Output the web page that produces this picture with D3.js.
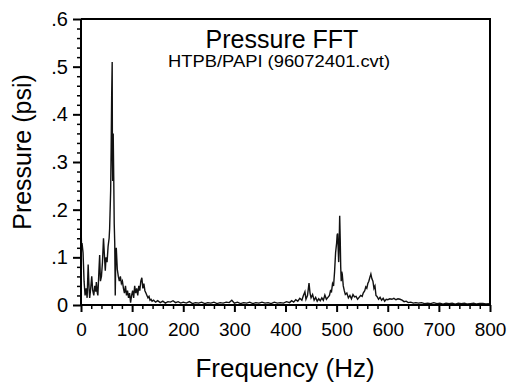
<!DOCTYPE html>
<html>
<head>
<meta charset="utf-8">
<script src="https://cdn.jsdelivr.net/npm/d3@7"></script>
<style>
  html, body { margin: 0; padding: 0; background: #fff; }
  svg { display: block; }
  text { font-family: "Liberation Sans", Arial, Helvetica, sans-serif; fill: #000; }
</style>
</head>
<body>
<svg id="chart" width="508" height="384"></svg>
<script>
// ---- Data (frequency Hz, pressure psi) ----
const lowBand = [
  [0,0.17],[1,0.125],[2,0.13],[4,0.11],[6,0.05],[8,0.02],[10,0.035],[12,0.015],[14,0.085],
  [16,0.03],[17,0.015],[19,0.035],[21,0.06],[23,0.03],[25,0.02],[27,0.04],[29,0.028],[30,0.048],
  [32,0.025],[33,0.02],[35,0.07],[36.5,0.105],[38,0.05],[40,0.06],[42,0.09],[44,0.14],[46,0.1],
  [47.5,0.072],[49,0.1],[51,0.09],[53,0.123],[55,0.14],[56,0.16],[57,0.2],[58,0.24],[59,0.33],
  [60,0.44],[61,0.51],[61.5,0.3],[62,0.26],[63,0.36],[64,0.27],[65,0.17],[66,0.13],[67,0.02],
  [68,0.1],[69,0.12],[71,0.075],[73,0.06],[75,0.05],[77,0.06],[79,0.045],[81,0.05],[83,0.035],
  [85,0.025],[87,0.04],[89,0.02],[91,0.03],[93,0.015],[95,0.025],[97,0.005],[99,0.02],[101,0.03],
  [103,0.015],[105,0.04],[107,0.025],[109,0.035],[111,0.02],[113,0.04],[115,0.03],[117,0.05],
  [119,0.057],[121,0.035],[123,0.045],[125,0.03],[127,0.025],[129,0.02],[131,0.015],[133,0.018],
  [135,0.01],[137,0.012],[139,0.008]
];
const midFlat = [
  [142,0.01],[146,0.006],[150,0.009],[155,0.005],[160,0.008],[165,0.004],[170,0.007],[175,0.006],
  [180,0.009],[185,0.005],[190,0.007],[195,0.004],[200,0.006],[206,0.004],[212,0.007],[218,0.003],
  [224,0.005],[230,0.004],[236,0.006],[242,0.003],[248,0.005],[254,0.004],[260,0.006],[266,0.003],
  [272,0.005],[278,0.004],[284,0.006],[290,0.005],[295,0.01],[300,0.004],[306,0.006],[312,0.003],
  [318,0.005],[324,0.004],[330,0.006],[336,0.003],[342,0.005],[348,0.004],[354,0.006],[360,0.004],
  [366,0.005],[372,0.003],[378,0.006],[384,0.004],[390,0.005],[396,0.004],[402,0.007],[408,0.005],
  [412,0.009],[416,0.006]
];
const highBand = [
  [420,0.011],[424,0.008],[428,0.014],[432,0.01],[435,0.02],[438,0.028],[440,0.012],[443,0.02],
  [446,0.046],[448,0.025],[450,0.015],[453,0.022],[456,0.01],[459,0.016],[462,0.008],[465,0.013],
  [468,0.009],[471,0.015],[474,0.01],[477,0.021],[480,0.012],[483,0.016],[486,0.02],[488,0.03],
  [490,0.028],[492,0.045],[494,0.04],[496,0.07],[498,0.11],[500,0.13],[501,0.147],[502,0.15],
  [503,0.12],[504,0.09],[505,0.13],[506,0.187],[507,0.14],[508,0.08],[509,0.05],[510,0.07],
  [511,0.065],[513,0.04],[515,0.03],[517,0.022],[520,0.025],[523,0.015],[526,0.02],[529,0.013],
  [532,0.022],[535,0.017],[538,0.018],[541,0.012],[544,0.016],[547,0.02],[550,0.018],[552,0.025],
  [555,0.03],[557,0.038],[559,0.035],[561,0.045],[563,0.05],[565,0.058],[567,0.065],[569,0.055],
  [571,0.05],[573,0.035],[575,0.04],[577,0.02],[579,0.018],[582,0.012],[585,0.016],[588,0.01],
  [591,0.014],[594,0.008],[597,0.012],[600,0.011],[604,0.013],[608,0.012],[612,0.014],[616,0.011],
  [620,0.013],[624,0.012],[628,0.01],[632,0.007],[636,0.008],[640,0.005],[645,0.006],[650,0.004]
];
const tailBand = [
  [655,0.005],[660,0.004],[666,0.005],[672,0.003],[678,0.004],[684,0.003],[690,0.005],[696,0.003],
  [702,0.004],[708,0.002],[714,0.004],[720,0.003],[726,0.004],[732,0.002],[738,0.004],[744,0.003],
  [750,0.004],[756,0.002],[762,0.003],[768,0.004],[774,0.002],[780,0.003],[786,0.003],[792,0.002],
  [798,0.003]
];
const xTickValues = [0,100,200,300,400,500,600,700,800];
const xTickLabels = ["0","100","200","300","400","500","600","700","800"];
const yTickValues = [0,0.1,0.2,0.3,0.4,0.5,0.6];
const yTickLabels = ["0",".1",".2",".3",".4",".5",".6"];
const titleText = "Pressure FFT";
const subtitleText = "HTPB/PAPI (96072401.cvt)";
const xTitle = "Frequency (Hz)";
const yTitle = "Pressure (psi)";

// ---- Layout ----
const svg = d3.select("#chart");
const L = 81, R = 490, T = 19, B = 305;
const x = d3.scaleLinear().domain([0, 800]).range([L, R]);
const y = d3.scaleLinear().domain([0, 0.6]).range([B, T]);
const series = lowBand.concat(midFlat, highBand, tailBand);

// Frame (top/right)
svg.append("path")
  .attr("d", `M${L},${T}H${R}V${B}`)
  .attr("fill", "none").attr("stroke", "#000").attr("stroke-width", 2);

// Data line
svg.append("path")
  .datum(series)
  .attr("fill", "none")
  .attr("stroke", "#111")
  .attr("stroke-width", 1.4)
  .attr("stroke-linejoin", "miter")
  .attr("d", d3.line().x(d => x(d[0])).y(d => y(d[1])));

// X axis
const xMinor = d3.range(0, 801, 20).filter(v => v % 100 !== 0);
const xAxisG = svg.append("g").attr("transform", `translate(0,${B})`);
xAxisG.append("g").call(d3.axisBottom(x).tickValues(xMinor).tickSize(4).tickFormat(""))
  .call(g => g.select(".domain").remove())
  .call(g => g.selectAll("line").attr("stroke-width", 1.5));
xAxisG.append("g").call(d3.axisBottom(x).tickValues(xTickValues).tickSize(7).tickPadding(11)
    .tickFormat((d, i) => xTickLabels[i]))
  .call(g => g.select(".domain").attr("stroke-width", 2).attr("d", `M${L},0H${R}`))
  .call(g => g.selectAll("line").attr("stroke-width", 2))
  .call(g => g.selectAll("text").attr("font-size", 19).attr("fill", "#000")
    .style("font-family", "'Liberation Sans', Arial, sans-serif"));

// Y axis
const yMinor = d3.range(0, 0.601, 0.02).filter(v => Math.abs(v * 10 - Math.round(v * 10)) > 1e-6);
const yAxisG = svg.append("g").attr("transform", `translate(${L},0)`);
yAxisG.append("g").call(d3.axisLeft(y).tickValues(yMinor).tickSize(4).tickFormat(""))
  .call(g => g.select(".domain").remove())
  .call(g => g.selectAll("line").attr("stroke-width", 1.5));
yAxisG.append("g").call(d3.axisLeft(y).tickValues(yTickValues).tickSize(8).tickPadding(5)
    .tickFormat((d, i) => yTickLabels[i]))
  .call(g => g.select(".domain").attr("stroke-width", 2).attr("d", `M0,${B}V${T}`))
  .call(g => g.selectAll("line").attr("stroke-width", 2))
  .call(g => g.selectAll("text").attr("font-size", 20).attr("fill", "#000")
    .style("font-family", "'Liberation Sans', Arial, sans-serif"));

// Titles
svg.append("text").attr("x", 282).attr("y", 48).attr("text-anchor", "middle")
  .attr("font-size", 25).text(titleText);
svg.append("text").attr("x", 279).attr("y", 67).attr("text-anchor", "middle")
  .attr("font-size", 16).attr("textLength", 222).attr("lengthAdjust", "spacingAndGlyphs")
  .text(subtitleText);
svg.append("text").attr("x", 285).attr("y", 377).attr("text-anchor", "middle")
  .attr("font-size", 26).text(xTitle);
svg.append("text").attr("transform", "translate(31,152) rotate(-90)").attr("text-anchor", "middle")
  .attr("font-size", 25).text(yTitle);
</script>
</body>
</html>
